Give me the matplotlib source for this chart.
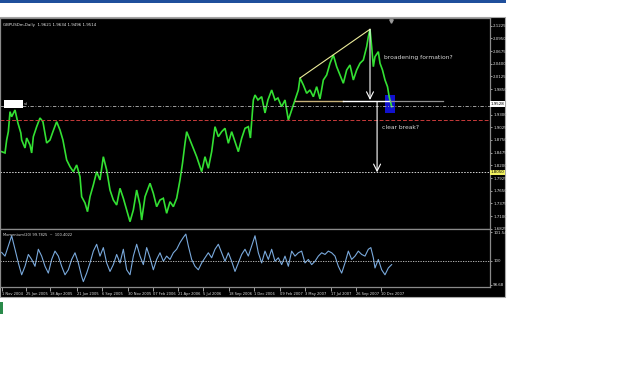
import matplotlib
matplotlib.use("Agg")
import matplotlib.pyplot as plt
from matplotlib.patches import Rectangle

W, H = 625, 391

# ---------------- data ----------------
price_bar = [4, 12, 16, 20, 24, 28, 36, 43, 50, 52, 60, 64, 72, 76, 80, 88, 96, 103, 112, 120,
             127, 136, 144, 151, 160, 168, 176, 184, 192, 196, 204, 210, 216, 224, 232, 240, 248,
             256, 264, 272, 280, 288, 296, 304, 312, 320, 328, 336, 340, 348, 360, 368, 376, 384,
             392, 400, 408, 416, 424, 432, 438, 444, 448, 456, 464, 472, 480, 484, 492, 500, 508,
             516, 524, 532, 540, 548, 556, 564, 572, 580, 588, 596, 601, 608, 612, 619, 628, 636,
             643, 652, 660, 667, 676, 684, 692, 700, 708, 716, 720, 728, 736, 744, 752, 760, 768,
             776, 784, 792, 800, 808, 816, 824, 832, 840, 848, 856, 864, 872, 880, 884, 888, 892,
             896, 900, 908, 912, 918, 924, 930, 934, 940]
price_val = [1.8496, 1.8468, 1.8749, 1.8929, 1.9362, 1.9253, 1.9398, 1.9117, 1.8901, 1.8749,
             1.8576, 1.8792, 1.8641, 1.8468, 1.8820, 1.9037, 1.9225, 1.9145, 1.8684, 1.8749,
             1.8929, 1.9145, 1.8965, 1.8749, 1.8316, 1.8171, 1.8063, 1.8208, 1.7954, 1.7521,
             1.7385, 1.7197, 1.7521, 1.7775, 1.8063, 1.7883, 1.8387, 1.8099, 1.7666, 1.7450,
             1.7342, 1.7703, 1.7487, 1.7233, 1.6980, 1.7233, 1.7666, 1.7342, 1.7017, 1.7521,
             1.7812, 1.7595, 1.7305, 1.7450, 1.7487, 1.7162, 1.7413, 1.7305, 1.7487, 1.7883,
             1.8245, 1.8678, 1.8929, 1.8749, 1.8569, 1.8387, 1.8171, 1.8063, 1.8387, 1.8136,
             1.8496, 1.9037, 1.8820, 1.8929, 1.9002, 1.8678, 1.8929, 1.8712, 1.8496, 1.8786,
             1.9002, 1.9037, 1.8792, 1.9615, 1.9723, 1.9615, 1.9686, 1.9334, 1.9615, 1.9831,
             1.9615, 1.9658, 1.9470, 1.9615, 1.9182, 1.9398, 1.9615, 1.9831, 2.0091, 1.9940,
             1.9760, 1.9831, 1.9686, 1.9903, 1.9637, 2.0048, 2.0156, 2.0410, 2.0589, 2.0336,
             2.0156, 1.9977, 2.0264, 2.0373, 2.0048, 2.0264, 2.0410, 2.0481, 2.0769, 2.0985,
             2.1146, 2.0769, 2.0336, 2.0552, 2.0661, 2.0410, 2.0264, 2.0048, 1.9903, 1.9686,
             1.9470]

mom_bar = [4, 12, 20, 28, 36, 44, 52, 60, 68, 76, 84, 92, 100, 108, 116, 124, 132, 140, 148,
           156, 164, 172, 180, 188, 196, 200, 208, 216, 224, 232, 240, 248, 256, 264, 272, 280,
           288, 296, 304, 312, 320, 328, 336, 344, 352, 360, 368, 376, 384, 392, 400, 408, 416,
           424, 432, 440, 446, 452, 460, 468, 476, 484, 492, 500, 508, 516, 524, 532, 540, 548,
           556, 564, 572, 580, 588, 596, 604, 612, 620, 628, 636, 644, 652, 660, 668, 676, 684,
           692, 700, 708, 716, 724, 732, 740, 748, 756, 764, 772, 780, 788, 796, 804, 812, 820,
           828, 836, 844, 852, 860, 868, 876, 884, 890, 896, 900, 908, 916, 924, 932, 940]
mom_val = [100.44, 100.24, 100.79, 101.34, 100.61, 99.87, 99.23, 99.69, 100.33, 100.06,
           99.69, 100.61, 100.24, 99.69, 99.32, 100.06, 100.51, 100.24, 99.69, 99.23, 99.50,
           100.06, 100.42, 99.87, 99.14, 98.86, 99.32, 99.87, 100.51, 100.88, 100.24, 100.70,
           99.87, 99.41, 99.78, 100.33, 99.87, 100.61, 99.50, 99.23, 100.24, 100.88, 100.24,
           99.78, 100.70, 100.15, 99.50, 100.06, 100.42, 99.96, 100.24, 100.06, 100.42, 100.61,
           100.97, 101.25, 101.43, 100.79, 100.06, 99.69, 99.50, 99.87, 100.15, 100.42, 100.15,
           100.61, 100.88, 100.42, 99.96, 100.42, 99.96, 99.41, 99.87, 100.33, 100.61, 100.24,
           100.79, 101.34, 100.42, 99.87, 100.51, 100.06, 100.61, 99.96, 100.15, 99.78, 100.24,
           99.69, 100.51, 100.24, 100.42, 100.51, 99.87, 100.06, 99.78, 99.96, 100.24, 100.42,
           100.33, 100.51, 100.42, 100.24, 99.69, 99.32, 99.87, 100.51, 100.06, 100.24, 100.51,
           100.33, 100.24, 100.61, 100.70, 100.15, 99.60, 100.06, 99.50, 99.23, 99.60, 99.78]

price_ticks = [2.1225, 2.0950, 2.0675, 2.0400, 2.0125, 1.9850, 1.9300, 1.9025, 1.8750,
               1.8475, 1.8200, 1.7925, 1.7650, 1.7375, 1.7100, 1.6825]
date_bars = [5, 62, 120, 185, 245, 307, 367, 427, 487, 550, 610, 672, 732, 794, 854, 914]
date_labels = ["1 Nov 2004", "25 Jan 2005", "18 Apr 2005", "21 Jun 2005", "6 Sep 2005",
               "30 Nov 2005", "07 Feb 2006", "21 Apr 2006", "5 Jul 2006", "18 Sep 2006",
               "1 Dec 2006", "09 Feb 2007", "3 May 2007", "17 Jul 2007", "26 Sep 2007",
               "10 Dec 2007"]
mom_ticks = [98.68, 100.0, 101.54]
mom_labels = ["98.68", "100", "101.54"]

trend_bars = [720, 888]
trend_prices = [2.0091, 2.1146]
neck_price = 1.9583
dashdot_price = 1.9485
red_price = 1.9182
target_price = 1.8050
bid_price = 1.9528
title_text = "GBPUSDm,Daily  1.9621 1.9634 1.9496 1.9514"
mom_title = "Momentum(20) 99.7825  ~  100.4022"

# ---------------- figure ----------------
fig = plt.figure(figsize=(W / 100, H / 100), dpi=100, facecolor="white")

def fr(x0, y0, x1, y1):
    return [x0 / W, 1 - y1 / H, (x1 - x0) / W, (y1 - y0) / H]

# window background and top bar
r = fr(0, 17, 505, 297)
fig.add_artist(Rectangle((r[0], r[1]), r[2], r[3], transform=fig.transFigure,
                         facecolor="black", edgecolor="#a8a8a8", lw=0.8, zorder=-2))
r = fr(0, 0, 506, 2.5)
fig.add_artist(Rectangle((r[0], r[1]), r[2], r[3], transform=fig.transFigure,
                         facecolor="#1f4f9c", edgecolor="none", zorder=-1))
r = fr(0, 302, 2.5, 314)
fig.add_artist(Rectangle((r[0], r[1]), r[2], r[3], transform=fig.transFigure,
                         facecolor="#2a8a4a", edgecolor="none", zorder=-1))

ax1 = fig.add_axes(fr(0, 18, 490, 229))
ax2 = fig.add_axes(fr(0, 229, 490, 287))
XMAX = 490 * 2.4

for ax in (ax1, ax2):
    ax.set_facecolor("black")
    for s in ax.spines.values():
        s.set_color("#8a8a8a")
        s.set_linewidth(0.9)
    ax.set_xlim(0, XMAX)

ax1.set_ylim(1.6822, 2.1390)
ax2.set_ylim(98.57, 101.705)

# price series
ax1.plot(price_bar, price_val, color="#33e033", lw=1.2, solid_joinstyle="miter")

# horizontal lines
ax1.axhline(dashdot_price, color="#b8b8b8", lw=0.6, ls=(0, (4, 2, 1, 2)))
ax1.axhline(red_price, color="#c83a3a", lw=0.7, ls=(0, (4, 2)))
ax1.axhline(target_price, color="#d8d8d8", lw=0.7, ls=(0, (1.5, 1.5)))

# formation lines
ax1.plot(trend_bars, trend_prices, color="#ecec9a", lw=0.8)
ax1.plot([708, 823], [neck_price, neck_price], color="#c8b27a", lw=1.0)
ax1.plot([823, 936], [neck_price, neck_price], color="white", lw=1.0)
ax1.plot([936, 1063], [neck_price, neck_price], color="#909090", lw=0.9)

# blue highlight box
ax1.add_patch(Rectangle((924, 1.9334), 24, 1.9723 - 1.9334, facecolor="#1414e6",
                        edgecolor="none", alpha=0.9, zorder=1))

# arrows
ax1.annotate("", xy=(888, 1.9615), xytext=(888, 2.1146),
             arrowprops=dict(arrowstyle="->,head_length=0.5,head_width=0.25",
                             color="white", lw=0.8, shrinkA=0, shrinkB=0))
ax1.annotate("", xy=(905, target_price), xytext=(905, neck_price),
             arrowprops=dict(arrowstyle="->,head_length=0.5,head_width=0.25",
                             color="white", lw=0.8, shrinkA=0, shrinkB=0))

ax1.text(922, 2.0545, "broadening formation?", color="#d8d8d8", fontsize=4.3,
         va="center", ha="left")
ax1.text(917, 1.9015, "clear break?", color="#d8d8d8", fontsize=4.3,
         va="center", ha="left")

# title
ax1.text(0.006, 0.978, title_text, transform=ax1.transAxes, color="#e8e8e8",
         fontsize=2.9, va="top", ha="left")
# left label box
ax1.add_patch(Rectangle((10, 1.9442), 45, 0.0173, facecolor="white", edgecolor="none",
                        zorder=3))
ax1.text(58, 1.9528, "sd", color="#c0c0c0", fontsize=2.5, va="center", ha="left")
# chart-shift marker
ax1.plot([938], [2.1330], marker="v", color="#9a9a9a", ms=2.5)

# right price scale
ax1.yaxis.tick_right()
ax1.set_yticks(price_ticks)
ax1.set_yticklabels([f"{v:.4f}" for v in price_ticks])
ax1.tick_params(axis="y", colors="#dcdcdc", labelsize=2.9, length=1.5, width=0.5, pad=0.8)
ax1.set_xticks([])
ax1.text(1.002, (bid_price - 1.6822) / (2.1390 - 1.6822), f"{bid_price:.4f}",
         transform=ax1.transAxes, fontsize=2.9, color="black", va="center", ha="left",
         bbox=dict(boxstyle="square,pad=0.15", facecolor="white", edgecolor="none"))
ax1.text(1.002, (target_price - 1.6822) / (2.1390 - 1.6822), f"{target_price:.4f}",
         transform=ax1.transAxes, fontsize=2.9, color="black", va="center", ha="left",
         bbox=dict(boxstyle="square,pad=0.15", facecolor="#f0f060", edgecolor="none"))

# momentum panel
ax2.plot(mom_bar, mom_val, color="#79a9dc", lw=0.8)
ax2.axhline(100.0, color="#d0d0d0", lw=0.6, ls=(0, (1.5, 1.5)))
ax2.text(0.006, 0.93, mom_title, transform=ax2.transAxes, color="#e0e0e0",
         fontsize=2.6, va="top", ha="left")
ax2.yaxis.tick_right()
ax2.set_yticks(mom_ticks)
ax2.set_yticklabels(mom_labels)
ax2.tick_params(axis="y", colors="#dcdcdc", labelsize=2.9, length=1.5, width=0.5, pad=0.8)
ax2.set_xticks(date_bars)
ax2.set_xticklabels(date_labels)
ax2.tick_params(axis="x", colors="#e0e0e0", labelsize=2.6, length=3, width=0.5,
                direction="out", pad=0.5)
for lbl in ax2.get_xticklabels():
    lbl.set_ha("left")

fig.savefig("out.png", dpi=100, facecolor="white")
